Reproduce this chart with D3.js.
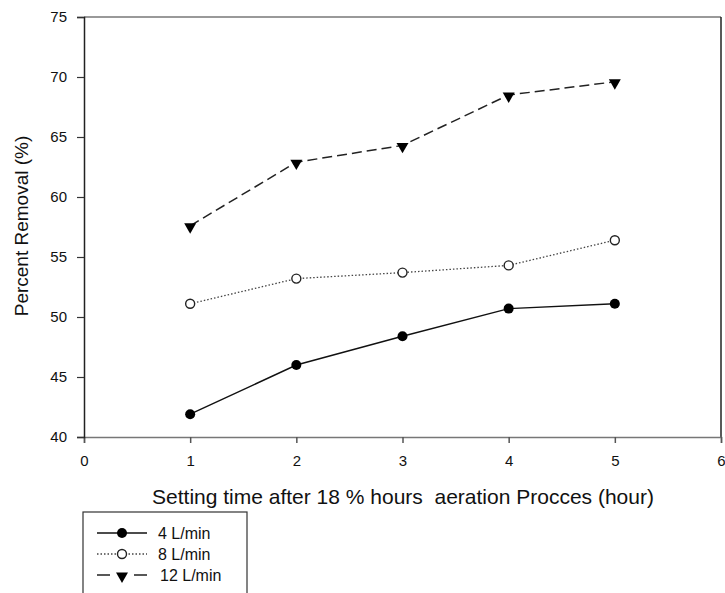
<!DOCTYPE html>
<html>
<head>
<meta charset="utf-8">
<script src="https://cdn.jsdelivr.net/npm/d3@7"></script>
<style>
  body { margin: 0; background: #fff; }
  svg { font-family: Arial, "Liberation Sans", sans-serif; }
</style>
</head>
<body>
<div id="grafico"></div>
<script>
// datos
var tiempos = [1, 2, 3, 4, 5]
var serie4 = [41.9, 46.0, 48.4, 50.7, 51.1]
var serie8 = [51.1, 53.2, 53.7, 54.3, 56.4]
var serie12 = [57.6, 62.9, 64.3, 68.5, 69.6]
var nombres = ['4 L/min', '8 L/min', '12 L/min']
var ticksX = [0, 1, 2, 3, 4, 5, 6]
var ticksY = [40, 45, 50, 55, 60, 65, 70, 75]

var width = 725
var height = 593
var mIzq = 84, mDer = 721, mSup = 17, mInf = 437

var svg = d3.select('#grafico').append('svg')
  .attr('width', width)
  .attr('height', height)

var x = d3.scaleLinear().domain([0, 6]).range([mIzq, mDer])
var y = d3.scaleLinear().domain([40, 75]).range([mInf, mSup])

// marco superior y derecho
svg.append('line')
  .attr('x1', mIzq).attr('x2', mDer).attr('y1', mSup).attr('y2', mSup)
  .attr('stroke', '#999').attr('stroke-width', 2)
svg.append('line')
  .attr('x1', mDer).attr('x2', mDer).attr('y1', mSup).attr('y2', mInf)
  .attr('stroke', '#222').attr('stroke-width', 1.5)

// ejes
var ejeX = svg.append('g')
  .attr('transform', 'translate(0,' + mInf + ')')
  .call(d3.axisBottom(x).tickValues(ticksX).tickSize(6).tickPadding(12).tickFormat(d3.format('d')))
  .attr('font-size', 15)
  .attr('font-family', null)
ejeX.select('.domain').attr('stroke', '#777').attr('stroke-width', 1.5)
ejeX.selectAll('line').attr('stroke', '#555').attr('stroke-width', 1.5)
ejeX.selectAll('text').attr('fill', '#111')

var ejeY = svg.append('g')
  .attr('transform', 'translate(' + mIzq + ',0)')
  .call(d3.axisLeft(y).tickValues(ticksY).tickSize(7).tickPadding(10))
  .attr('font-size', 15)
  .attr('font-family', null)
ejeY.select('.domain').attr('stroke', '#222').attr('stroke-width', 1.5)
ejeY.selectAll('line').attr('stroke', '#333').attr('stroke-width', 1.2)
ejeY.selectAll('text').attr('fill', '#111')

// titulos de ejes
svg.append('text')
  .attr('x', 403).attr('y', 504)
  .attr('text-anchor', 'middle')
  .style('font-size', '21px')
  .style('white-space', 'pre')
  .attr('fill', '#111')
  .text('Setting time after 18 % hours  aeration Procces (hour)')

svg.append('text')
  .attr('transform', 'translate(28,' + 226 + ') rotate(-90)')
  .attr('text-anchor', 'middle')
  .style('font-size', '19px')
  .attr('fill', '#111')
  .text('Percent Removal (%)')

// series
var series = [
  { nombre: nombres[0], valores: serie4, dash: null, leyenda: null, marca: 'lleno', ancho: 1.4, color: '#111' },
  { nombre: nombres[1], valores: serie8, dash: '1.5,2', leyenda: '1.5,2', marca: 'hueco', ancho: 1.3, color: '#444' },
  { nombre: nombres[2], valores: serie12, dash: '10,5', leyenda: '13,24,13', marca: 'triangulo', ancho: 1.5, color: '#222' }
]

var linea = d3.line()
  .x(function (d) { return x(d[0]) })
  .y(function (d) { return y(d[1]) })

function dibujarMarca(g, tipo, cx, cy) {
  if (tipo == 'lleno') {
    g.append('circle').attr('cx', cx).attr('cy', cy).attr('r', 5).attr('fill', '#000')
  } else if (tipo == 'hueco') {
    g.append('circle').attr('cx', cx).attr('cy', cy).attr('r', 4.5)
      .attr('fill', '#fff').attr('stroke', '#222').attr('stroke-width', 1.4)
  } else {
    g.append('path')
      .attr('d', d3.symbol().type(d3.symbolTriangle).size(62))
      .attr('transform', 'translate(' + cx + ',' + (cy + 1) + ') rotate(180)')
      .attr('fill', '#000')
  }
}

series.forEach(function (s) {
  var puntos = tiempos.map(function (t, i) { return [t, s.valores[i]] })
  svg.append('path')
    .datum(puntos)
    .attr('d', linea)
    .attr('fill', 'none')
    .attr('stroke', s.color)
    .attr('stroke-width', s.ancho)
    .attr('stroke-dasharray', s.dash)
  var g = svg.append('g')
  puntos.forEach(function (p) {
    dibujarMarca(g, s.marca, x(p[0]), y(p[1]))
  })
})

// leyenda
svg.append('rect')
  .attr('x', 83).attr('y', 512)
  .attr('width', 164).attr('height', 100)
  .attr('fill', 'none').attr('stroke', '#333').attr('stroke-width', 1.2)

var filas = [533, 554, 575]
series.forEach(function (s, i) {
  var g = svg.append('g')
  g.append('line')
    .attr('x1', 97).attr('x2', 147).attr('y1', filas[i]).attr('y2', filas[i])
    .attr('stroke', s.color).attr('stroke-width', s.ancho)
    .attr('stroke-dasharray', s.leyenda)
  dibujarMarca(g, s.marca, 122, filas[i])
  g.append('text')
    .attr('x', i == 2 ? 160 : 158).attr('y', filas[i] + 5.5)
    .style('font-size', '16px')
    .attr('fill', '#111')
    .text(s.nombre)
})
</script>
</body>
</html>
